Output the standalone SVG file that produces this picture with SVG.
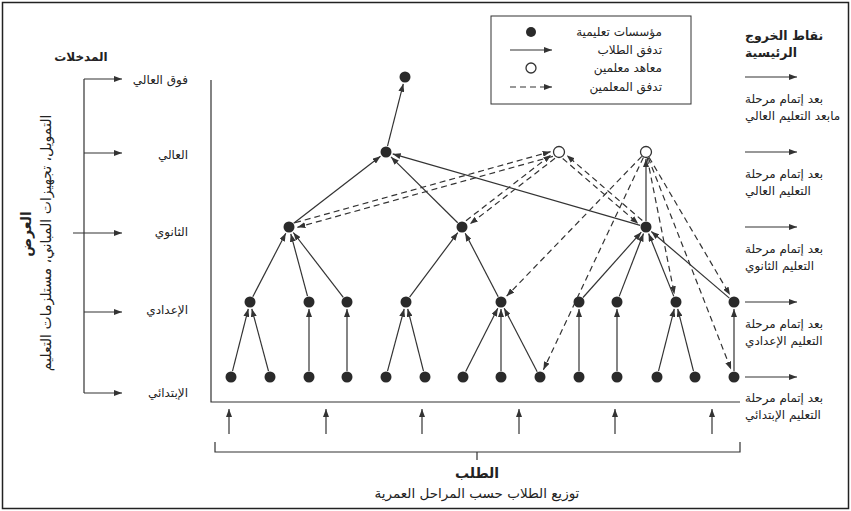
<svg xmlns="http://www.w3.org/2000/svg" width="851" height="511" viewBox="0 0 851 511">
<style>
.t{font-family:"DejaVu Sans",sans-serif;font-size:12px;fill:#222}
.b{font-weight:bold}
.ln{stroke:#333;stroke-width:1.2;fill:none}
.ar{stroke:#333;stroke-width:1.2;fill:none;marker-end:url(#ah)}
.da{stroke:#333;stroke-width:1.2;fill:none;stroke-dasharray:6 4;marker-end:url(#ah)}
.dot{fill:#2a2a2a}
.oc{fill:#fff;stroke:#333;stroke-width:1.3}
</style>
<defs>
<marker id="ah" viewBox="0 0 8 6" refX="8" refY="3" markerWidth="8" markerHeight="6" markerUnits="userSpaceOnUse" orient="auto">
<path d="M0,0 L8,3 L0,6 z" fill="#333"/>
</marker>
</defs>
<rect x="0" y="0" width="851" height="511" fill="#fff"/>
<rect x="2.5" y="2.5" width="846" height="506" fill="none" stroke="#222" stroke-width="1.5"/>

<g id="legend">
<rect x="491" y="16" width="200" height="88" fill="none" stroke="#333" stroke-width="1"/>
<circle class="dot" cx="531" cy="32" r="5"/>
<text class="t" x="662" y="36" text-anchor="end">مؤسسات تعليمية</text>
<line class="ar" x1="510" y1="50" x2="552" y2="50"/>
<text class="t" x="662" y="54" text-anchor="end">تدفق الطلاب</text>
<circle class="oc" cx="531" cy="68" r="5"/>
<text class="t" x="662" y="72" text-anchor="end">معاهد معلمين</text>
<line class="da" x1="510" y1="87" x2="552" y2="87"/>
<text class="t" x="662" y="91" text-anchor="end">تدفق المعلمين</text>
</g>

<g id="inputs">
<text class="t b" x="81" y="61" text-anchor="middle">المدخلات</text>
<path class="ln" d="M84,79 V393"/>
<line class="ar" x1="84" y1="79" x2="122" y2="79"/>
<line class="ar" x1="84" y1="153" x2="122" y2="153"/>
<line class="ar" x1="73" y1="233" x2="122" y2="233"/>
<line class="ar" x1="84" y1="312" x2="122" y2="312"/>
<line class="ar" x1="84" y1="393" x2="122" y2="393"/>
<text class="t" x="188" y="84" text-anchor="end">فوق العالي</text>
<text class="t" x="188" y="159" text-anchor="end">العالي</text>
<text class="t" x="188" y="236" text-anchor="end">الثانوي</text>
<text class="t" x="188" y="314" text-anchor="end">الإعدادي</text>
<text class="t" x="188" y="397" text-anchor="end">الإبتدائي</text>
<text class="t b" transform="translate(26,234) rotate(-90)" x="0" y="5" text-anchor="middle" style="font-size:14px">العرض</text>
<text class="t" transform="translate(46,243) rotate(-90)" x="0" y="5" text-anchor="middle" style="font-size:14px">التمويل، تجهيزات المباني، مستلزمات التعليم</text>
</g>

<g id="exits">
<text class="t b" x="745" y="40" style="font-size:12.5px">نقاط الخروج</text>
<text class="t b" x="745" y="57" style="font-size:12.5px">الرئيسية</text>
<line class="ar" x1="745" y1="77" x2="797" y2="77"/>
<text class="t" x="745" y="103" textLength="78" lengthAdjust="spacingAndGlyphs">بعد إتمام مرحلة</text>
<text class="t" x="745" y="120">مابعد التعليم العالي</text>
<line class="ar" x1="745" y1="152" x2="797" y2="152"/>
<text class="t" x="745" y="178" textLength="78" lengthAdjust="spacingAndGlyphs">بعد إتمام مرحلة</text>
<text class="t" x="745" y="195">التعليم العالي</text>
<line class="ar" x1="745" y1="227" x2="797" y2="227"/>
<text class="t" x="745" y="253" textLength="78" lengthAdjust="spacingAndGlyphs">بعد إتمام مرحلة</text>
<text class="t" x="745" y="270">التعليم الثانوي</text>
<line class="ar" x1="745" y1="302" x2="797" y2="302"/>
<text class="t" x="745" y="328" textLength="78" lengthAdjust="spacingAndGlyphs">بعد إتمام مرحلة</text>
<text class="t" x="745" y="345">التعليم الإعدادي</text>
<line class="ar" x1="745" y1="377" x2="797" y2="377"/>
<text class="t" x="745" y="402" textLength="78" lengthAdjust="spacingAndGlyphs">بعد إتمام مرحلة</text>
<text class="t" x="745" y="419">التعليم الإبتدائي</text>
</g>

<g id="demand">
<path class="ln" d="M211,80 V402 H740"/>
<line class="ar" x1="229" y1="434" x2="229" y2="409"/>
<line class="ar" x1="326" y1="434" x2="326" y2="409"/>
<line class="ar" x1="422" y1="434" x2="422" y2="409"/>
<line class="ar" x1="519" y1="434" x2="519" y2="409"/>
<line class="ar" x1="615" y1="434" x2="615" y2="409"/>
<line class="ar" x1="712" y1="434" x2="712" y2="409"/>
<path class="ln" d="M215,442 V452 H740 V442 M477,452 V460"/>
<text class="t b" x="477" y="478" text-anchor="middle" style="font-size:14px">الطلب</text>
<text class="t" x="477" y="498" text-anchor="middle" style="font-size:13.5px">توزيع الطلاب حسب المراحل العمرية</text>
</g>

<g id="connectors">
<line class="ar" x1="232.5" y1="371.2" x2="248.3" y2="308.8"/>
<line class="ar" x1="268.5" y1="371.2" x2="251.8" y2="308.8"/>
<line class="ar" x1="309" y1="371" x2="309" y2="309"/>
<line class="ar" x1="347" y1="371" x2="347" y2="309"/>
<line class="ar" x1="387.5" y1="371.2" x2="404.2" y2="308.8"/>
<line class="ar" x1="423.5" y1="371.2" x2="407.7" y2="308.8"/>
<line class="ar" x1="465.7" y1="371.6" x2="497.8" y2="308.2"/>
<line class="ar" x1="501" y1="371" x2="501" y2="309"/>
<line class="ar" x1="537.2" y1="371.7" x2="504.2" y2="308.2"/>
<line class="ar" x1="579" y1="371" x2="579" y2="309"/>
<line class="ar" x1="617" y1="371" x2="617" y2="309"/>
<line class="ar" x1="658.5" y1="371.2" x2="674.3" y2="308.8"/>
<line class="ar" x1="693.5" y1="371.2" x2="677.7" y2="308.8"/>
<line class="ar" x1="734" y1="371" x2="734" y2="309"/>

<line class="ar" x1="252.8" y1="296.7" x2="285.8" y2="233.2"/>
<line class="ar" x1="307.5" y1="296.2" x2="290.8" y2="233.8"/>
<line class="ar" x1="343.3" y1="297.3" x2="293.3" y2="232.5"/>
<line class="ar" x1="409.6" y1="297.2" x2="457.8" y2="232.6"/>
<line class="ar" x1="498.2" y1="296.7" x2="465.2" y2="233.2"/>
<line class="ar" x1="583" y1="297.5" x2="641.3" y2="232.2"/>
<line class="ar" x1="619.2" y1="296.4" x2="643.5" y2="233.5"/>
<line class="ar" x1="673.8" y1="296.4" x2="648.6" y2="233.5"/>
<line class="ar" x1="729.4" y1="298.1" x2="651.3" y2="231.5"/>

<line class="ar" x1="293.7" y1="223.3" x2="380.5" y2="156.3"/>
<line class="ar" x1="457.7" y1="222.8" x2="391" y2="156.9"/>
<line class="ar" x1="640.2" y1="225.3" x2="392.7" y2="153.9"/>
<line class="ar" x1="646" y1="221" x2="646" y2="159"/>
<line class="ar" x1="387.5" y1="146.2" x2="403.3" y2="83.8"/>

<line class="da" x1="552.9" y1="156.3" x2="297.4" y2="227.3"/>
<line class="da" x1="295.1" y1="222.7" x2="550.6" y2="151.7"/>
<line class="da" x1="555" y1="158.3" x2="469.9" y2="224.1"/>
<line class="da" x1="466" y1="220.7" x2="551.1" y2="154.9"/>
<line class="da" x1="562.7" y1="158.5" x2="638.3" y2="223.7"/>
<line class="da" x1="642.3" y1="220.5" x2="566.7" y2="155.3"/>

<line class="da" x1="641.8" y1="156.3" x2="506.6" y2="296.2"/>
<line class="da" x1="643.4" y1="157.4" x2="543.4" y2="369.8"/>
<line class="da" x1="647.2" y1="157.9" x2="674.4" y2="294.2"/>
<line class="da" x1="649" y1="157.2" x2="730" y2="295.1"/>
<line class="da" x1="648.2" y1="157.6" x2="731.1" y2="369.6"/>
</g>

<g id="nodes">
<g id="n-post"><circle class="dot" cx="405" cy="77" r="5.5"/></g>
<g id="n-higher"><circle class="dot" cx="386" cy="152" r="5.5"/></g>
<g id="n-tt1"><circle class="oc" cx="559" cy="152" r="5.5"/></g>
<g id="n-tt2"><circle class="oc" cx="646" cy="152" r="5.5"/></g>
<g id="n-s1"><circle class="dot" cx="289" cy="227" r="5.5"/></g>
<g id="n-s2"><circle class="dot" cx="462" cy="227" r="5.5"/></g>
<g id="n-s3"><circle class="dot" cx="646" cy="227" r="5.5"/></g>
<g id="n-m1"><circle class="dot" cx="250" cy="302" r="5.5"/></g>
<g id="n-m2"><circle class="dot" cx="309" cy="302" r="5.5"/></g>
<g id="n-m3"><circle class="dot" cx="347" cy="302" r="5.5"/></g>
<g id="n-m4"><circle class="dot" cx="406" cy="302" r="5.5"/></g>
<g id="n-m5"><circle class="dot" cx="501" cy="302" r="5.5"/></g>
<g id="n-m6"><circle class="dot" cx="579" cy="302" r="5.5"/></g>
<g id="n-m7"><circle class="dot" cx="617" cy="302" r="5.5"/></g>
<g id="n-m8"><circle class="dot" cx="676" cy="302" r="5.5"/></g>
<g id="n-m9"><circle class="dot" cx="734" cy="302" r="5.5"/></g>
<g id="n-b1"><circle class="dot" cx="231" cy="377" r="5.5"/></g>
<g id="n-b2"><circle class="dot" cx="270" cy="377" r="5.5"/></g>
<g id="n-b3"><circle class="dot" cx="309" cy="377" r="5.5"/></g>
<g id="n-b4"><circle class="dot" cx="347" cy="377" r="5.5"/></g>
<g id="n-b5"><circle class="dot" cx="386" cy="377" r="5.5"/></g>
<g id="n-b6"><circle class="dot" cx="425" cy="377" r="5.5"/></g>
<g id="n-b7"><circle class="dot" cx="463" cy="377" r="5.5"/></g>
<g id="n-b8"><circle class="dot" cx="501" cy="377" r="5.5"/></g>
<g id="n-b9"><circle class="dot" cx="540" cy="377" r="5.5"/></g>
<g id="n-b10"><circle class="dot" cx="579" cy="377" r="5.5"/></g>
<g id="n-b11"><circle class="dot" cx="617" cy="377" r="5.5"/></g>
<g id="n-b12"><circle class="dot" cx="657" cy="377" r="5.5"/></g>
<g id="n-b13"><circle class="dot" cx="695" cy="377" r="5.5"/></g>
<g id="n-b14"><circle class="dot" cx="734" cy="377" r="5.5"/></g>
</g>
</svg>
